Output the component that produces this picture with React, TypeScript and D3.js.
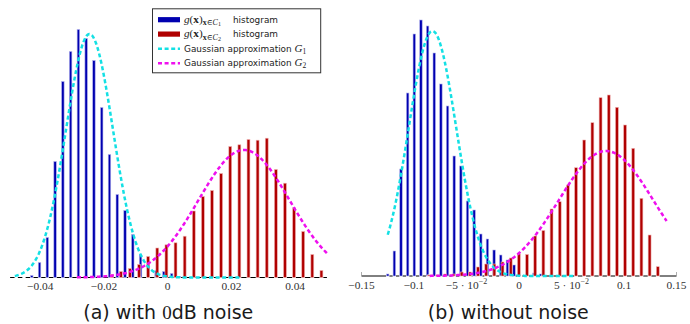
import React from "react";
import * as d3 from "d3";

// ---------------- DATA ----------------
// Panel (a): with 0dB noise
const aTicks = [-0.04, -0.02, 0, 0.02, 0.04];
const aTickLabels = ["−0.04", "−0.02", "0", "0.02", "0.04"];
const aBlueBinStart = -0.05;
const aBlueBinWidth = 0.00244;
const aBlueCounts = [0, 0, 0, 2, 15, 40, 116, 196, 226, 248, 239, 217, 170, 123, 83, 67, 43, 23, 12, 7, 6, 4, 1];
const aRedBinStart = -0.01758;
const aRedBinWidth = 0.002863;
const aRedCounts = [3, 6, 9, 13, 21, 29.5, 32.7, 34.7, 41.3, 66.5, 81, 87, 104, 131, 132.7, 138, 137.3, 139.3, 108, 94.3, 69.7, 46, 23, 7];
// Gaussian approximations: [mean, std, peak, from, to]
const aG1 = [-0.02455, 0.00738, 243.5, -0.048, 0.0225];
const aG2 = [0.02396, 0.0143, 127.5, -0.0285, 0.05];

// Panel (b): without noise
const bTicks = [-0.15, -0.1, -0.05, 0, 0.05, 0.1, 0.15];
const bTickLabels = ["−0.15", "−0.1", "−5·10^−2", "0", "5·10^−2", "0.1", "0.15"];
const bBlueBinStart = -0.12505;
const bBlueBinWidth = 0.006333;
const bBlueCounts = [2, 25, 107, 183, 242, 256, 250, 223, 192, 170, 120, 110, 75, 66, 42, 37, 26, 21, 16, 11, 0, 0, 3, 2];
const bRedBinStart = -0.08571;
const bRedBinWidth = 0.007781;
const bRedCounts = [1, 1, 2, 2, 4, 4, 9, 12, 12, 14, 18, 22, 21.5, 40, 45.5, 67, 74.3, 91, 108.3, 136, 153.3, 178.3, 181, 168.7, 151, 127.7, 77.7, 41, 9.3];
const bG1 = [-0.0824, 0.02257, 245, -0.125, 0.052];
const bG2 = [0.0829, 0.045, 125, -0.085, 0.1406];

const legendLabels = ["histogram", "histogram", "Gaussian approximation", "Gaussian approximation"];
const captions = ["(a) with ", "(b) without noise"];

// ---------------- STYLE ----------------
const BLUE = "#0000b0";
const BLUE_EDGE = "#b4b4ee";
const RED = "#b00000";
const RED_EDGE = "#f0b4b4";
const CYAN = "#14e0e4";
const MAGENTA = "#ee10ee";
const SERIF = "'Liberation Serif', 'DejaVu Serif', serif";
const SANS = "'DejaVu Sans', sans-serif";
const DASH = "4 2.6";
const LW = 2.5;

type PanelProps = {
  domain: [number, number];
  range: [number, number];
  base: number;
  ticks: number[];
  labels: string[];
  blue: { start: number; width: number; counts: number[] };
  red: { start: number; width: number; counts: number[] };
  g1: number[];
  g2: number[];
  endTicks: boolean;
};

function gaussPath(g: number[], x: d3.ScaleLinear<number, number>, y: d3.ScaleLinear<number, number>) {
  const [mu, sd, peak, from, to] = g;
  const n = 160;
  const pts = d3.range(n + 1).map((i) => {
    const v = from + ((to - from) * i) / n;
    return [v, peak * Math.exp(-((v - mu) ** 2) / (2 * sd * sd))] as [number, number];
  });
  return d3.line<[number, number]>().x((d) => x(d[0])).y((d) => y(d[1]))(pts) || "";
}

function TickLabel({ x, y, label }: { x: number; y: number; label: string }) {
  const parts = label.split("^");
  return (
    <text x={x} y={y} textAnchor="middle" fontFamily={SERIF} fontSize={11.4} fill="#333">
      {parts[0].replace("·", " · ")}
      {parts[1] ? (
        <tspan fontSize={8} dy={-4.5}>
          {parts[1]}
        </tspan>
      ) : null}
    </text>
  );
}

function Panel(p: PanelProps) {
  const x = d3.scaleLinear().domain(p.domain).range(p.range);
  const y = d3.scaleLinear().domain([0, 250]).range([p.base, p.base - 250]);
  const hist = (h: { start: number; width: number; counts: number[] }, fill: string, edge: string, bw: number, key: string) =>
    h.counts.map((c, i) => {
      const cx = x(h.start + i * h.width);
      return (
        <g key={key + i}>
          <rect x={cx - bw / 2 - 0.4} y={p.base - 1.3} width={bw + 0.8} height={2.6} fill="#fff" />
          {c > 0 ? (
            <rect x={cx - bw / 2} y={y(c)} width={bw} height={p.base - y(c)} fill={fill} stroke={edge} strokeWidth={0.6} />
          ) : null}
        </g>
      );
    });
  return (
    <g>
      <line x1={p.range[0]} x2={p.range[1]} y1={p.base} y2={p.base} stroke="#000" strokeWidth={1} />
      {p.endTicks
        ? p.range.map((r, i) => <line key={"et" + i} x1={r} x2={r} y1={p.base} y2={p.base - 4} stroke="#999" strokeWidth={0.8} />)
        : null}
      {hist(p.blue, BLUE, BLUE_EDGE, 2.5, "b")}
      {hist(p.red, RED, RED_EDGE, 2.9, "r")}
      <path d={gaussPath(p.g1, x, y)} fill="none" stroke={CYAN} strokeWidth={LW} strokeDasharray={DASH} />
      <path d={gaussPath(p.g2, x, y)} fill="none" stroke={MAGENTA} strokeWidth={LW} strokeDasharray={DASH} />
      {p.ticks.map((t, i) => (
        <TickLabel key={"t" + i} x={x(t)} y={p.base + 12.8} label={p.labels[i]} />
      ))}
    </g>
  );
}

function Legend() {
  const x0 = 152.5, y0 = 8.8, w = 168.2, h = 64;
  const rows = [19.7, 34.1, 48.8, 63.2];
  const sx1 = 158, sx2 = 180, tx = 184;
  return (
    <g>
      <rect x={x0} y={y0} width={w} height={h} fill="#fff" stroke="#333" strokeWidth={1} />
      <rect x={sx1} y={rows[0] - 2.6} width={sx2 - sx1} height={5.2} fill={BLUE} />
      <rect x={sx1} y={rows[1] - 2.6} width={sx2 - sx1} height={5.2} fill={RED} />
      <line x1={sx1} x2={sx2} y1={rows[2]} y2={rows[2]} stroke={CYAN} strokeWidth={LW} strokeDasharray={DASH} />
      <line x1={sx1} x2={sx2} y1={rows[3]} y2={rows[3]} stroke={MAGENTA} strokeWidth={LW} strokeDasharray={DASH} />
      {[0, 1].map((k) => (
        <g key={"m" + k}>
          <text x={tx} y={rows[k] + 3} fontFamily={SERIF} fontSize={11.2} fill="#222">
            <tspan fontStyle="italic">g</tspan>(<tspan fontWeight="bold">x</tspan>)
            <tspan fontSize={8} dy={2.4}>
              <tspan fontWeight="bold">x</tspan>∈<tspan fontStyle="italic">C</tspan>
            </tspan>
            <tspan fontSize={6} dy={1.2}>{k + 1}</tspan>
          </text>
          <text x={233} y={rows[k] + 3} fontFamily={SANS} fontSize={8.9} fill="#222">
            {legendLabels[k]}
          </text>
        </g>
      ))}
      {[2, 3].map((k) => (
        <text key={"g" + k} x={tx} y={rows[k] + 3} fontFamily={SANS} fontSize={8.9} fill="#222">
          {legendLabels[k]}{" "}
          <tspan fontFamily={SERIF} fontStyle="italic" fontSize={11}>G</tspan>
          <tspan fontFamily={SERIF} fontSize={7.5} dy={1.8}>{k - 1}</tspan>
        </text>
      ))}
    </g>
  );
}

export default function App() {
  return (
    <svg width={690} height={324} style={{ position: "absolute", left: 0, top: 0, background: "#fff" }}>
      <rect x={0} y={0} width={690} height={324} fill="#fff" />
      <Panel
        domain={[-0.05, 0.05]}
        range={[8.45, 326.95]}
        base={277.5}
        ticks={aTicks}
        labels={aTickLabels}
        blue={{ start: aBlueBinStart, width: aBlueBinWidth, counts: aBlueCounts }}
        red={{ start: aRedBinStart, width: aRedBinWidth, counts: aRedCounts }}
        g1={aG1}
        g2={aG2}
        endTicks={false}
      />
      <Panel
        domain={[-0.15, 0.15]}
        range={[361.5, 676.5]}
        base={276}
        ticks={bTicks}
        labels={bTickLabels}
        blue={{ start: bBlueBinStart, width: bBlueBinWidth, counts: bBlueCounts }}
        red={{ start: bRedBinStart, width: bRedBinWidth, counts: bRedCounts }}
        g1={bG1}
        g2={bG2}
        endTicks={true}
      />
      <Legend />
      <text x={168.3} y={318.5} textAnchor="middle" fontFamily={SANS} fontSize={19} fill="#1a1a1a">
        {captions[0]}
        <tspan fontFamily={SERIF}>0</tspan>dB noise
      </text>
      <text x={508.3} y={318.5} textAnchor="middle" fontFamily={SANS} fontSize={19} fill="#1a1a1a">
        {captions[1]}
      </text>
    </svg>
  );
}
